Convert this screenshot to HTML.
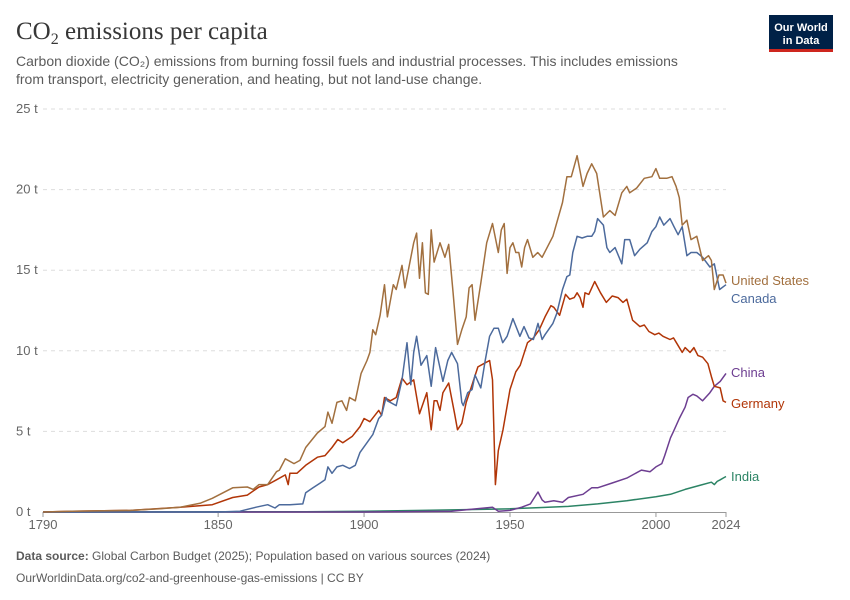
<!DOCTYPE html>
<html><head><meta charset="utf-8">
<style>
body{margin:0;background:#fff;font-family:"Liberation Sans",sans-serif;}
#wrap{position:relative;width:850px;height:600px;overflow:hidden;}
</style></head>
<body>
<div id="wrap">
<svg id="chart" width="850" height="600" xmlns="http://www.w3.org/2000/svg">
<text x="16" y="39" font-family="Liberation Serif,serif" font-size="25" fill="#373737">CO<tspan font-size="16" dy="5">2</tspan><tspan dy="-5"> emissions per capita</tspan></text>
<text x="16" y="66" font-size="14" fill="#5b5b5b">Carbon dioxide (CO₂) emissions from burning fossil fuels and industrial processes. This includes emissions</text>
<text x="16" y="84" font-size="14" fill="#5b5b5b">from transport, electricity generation, and heating, but not land-use change.</text>
<g>
<rect x="769" y="15" width="64" height="37" fill="#002147"/>
<rect x="769" y="49" width="64" height="3" fill="#ce261e"/>
<text x="801" y="31" font-size="11" font-weight="bold" fill="#fff" text-anchor="middle">Our World</text>
<text x="801" y="44" font-size="11" font-weight="bold" fill="#fff" text-anchor="middle">in Data</text>
</g>
<g id="grid"></g>
<g id="series"></g>
<g id="labels"></g>
<text x="16" y="560" font-size="12" fill="#5b5b5b"><tspan font-weight="bold">Data source:</tspan> Global Carbon Budget (2025); Population based on various sources (2024)</text>
<text x="16" y="582" font-size="12" fill="#5b5b5b">OurWorldinData.org/co2-and-greenhouse-gas-emissions | CC BY</text>
</svg>
</div>
<script>
const yTicks=[0,5,10,15,20,25];
const xTicks=[1790,1850,1900,1950,2000,2024];
const seriesNames=["United States","Canada","Germany","China","India"];
const usYears=[1790,1800,1820,1830,1837,1844,1848,1855,1860,1862,1864,1867,1870,1871,1873,1876,1878,1880,1884,1886.6,1887.6,1889,1890.7,1892.4,1894,1895,1897,1899,1901,1902,1903,1904,1905.5,1907,1908,1910,1911,1913,1914,1917,1918,1919,1920,1921,1922,1923,1924,1926,1927.7,1929,1930.5,1932,1933.5,1935,1936,1937,1938,1940,1942,1944,1946,1947,1948,1949,1950,1951,1952,1953,1954,1955,1956,1957.8,1959.5,1961,1964.7,1968,1969.5,1971,1973,1975,1976.4,1978,1979.7,1982,1984.2,1986,1988.3,1990,1991,1993.4,1996,1998.6,2000,2001.3,2003.7,2005.5,2006.9,2008,2009,2010.6,2012,2014,2016,2018,2019,2020,2021.6,2023,2024];
const usVals=[0,0.05,0.1,0.2,0.3,0.55,0.85,1.5,1.55,1.4,1.7,1.7,2.5,2.6,3.3,3.0,3.2,4.0,4.9,5.3,6.2,5.5,6.8,6.9,6.3,7.1,6.9,8.6,9.4,9.9,11.3,11.0,12.2,14.1,12.1,14.1,13.8,15.3,13.9,16.7,17.3,14.5,16.7,13.6,13.5,17.5,15.5,16.7,15.8,16.6,13.6,10.4,11.3,12.1,13.9,14.1,11.9,14.2,16.7,17.9,16.1,17.5,17.9,14.8,16.4,16.7,16.1,16.1,15.2,16.4,16.9,15.8,16.1,15.8,17.1,19.2,20.8,20.8,22.1,20.2,21.0,21.6,21.0,18.3,18.7,18.4,19.8,20.2,19.8,20.1,20.7,20.8,21.3,20.7,20.7,20.8,20.2,19.5,17.8,18.1,16.9,17.1,15.6,15.9,15.6,13.8,14.7,14.7,14.2];
const caYears=[1790,1850,1857.5,1863,1867,1869.5,1871,1874.6,1879,1880,1882.5,1885,1886.6,1887.6,1889,1890.7,1892.7,1895,1897,1898.6,1901,1903,1905,1906,1907.5,1908,1911,1913,1914.7,1916,1917,1918,1919.5,1921.5,1923,1924.5,1927,1928.7,1930,1932,1933.5,1934,1935.5,1937,1938,1940,1941.5,1943,1944.5,1946,1947.5,1949,1951,1953.4,1954.8,1956.5,1958,1959.6,1961,1962,1964.7,1966,1968,1969.5,1970.5,1971.5,1973,1974.7,1976.4,1978,1979,1980,1982,1983.2,1984.2,1986,1988.3,1989.3,1991,1992.7,1994.5,1997,1998.6,2000,2001.3,2002.7,2004.8,2006.2,2007.6,2009,2010.6,2012,2014,2016,2018.5,2020,2021.8,2024];
const caVals=[0,0,0.05,0.3,0.45,0.25,0.45,0.45,0.5,1.2,1.5,1.8,2.0,2.8,2.4,2.8,2.9,2.7,2.9,3.7,4.3,4.8,5.8,6.0,7.1,6.9,6.6,8.2,10.5,7.9,9.9,10.9,9.1,9.7,7.8,10.2,8.1,9.4,9.9,9.2,6.8,6.6,7.4,7.6,8.5,7.7,9.4,10.9,11.4,11.4,10.5,10.9,12.0,10.9,11.5,10.8,10.7,11.7,10.7,11.0,11.7,12.3,13.8,14.6,14.7,16.1,17.1,17.0,17.1,17.1,17.4,18.2,17.8,16.4,16.1,16.4,15.4,16.9,16.9,15.9,16.3,16.7,17.4,17.7,18.3,17.8,18.2,17.7,17.2,17.7,15.9,16.1,16.1,15.8,15.2,15.4,13.8,14.1,13.5];
const deYears=[1790,1800,1820,1837,1848,1855,1860,1864,1867,1870,1873,1874,1874.6,1877,1880,1884,1886.6,1889,1891,1892.7,1896,1898.6,1900,1902,1905,1906,1907,1909,1911,1913,1914.7,1917,1919,1921.5,1923,1924,1925,1926,1927,1929,1931,1932,1933.5,1935,1937,1939,1941,1943,1944,1945,1946,1947.6,1950,1952,1953.5,1956,1958,1960,1962,1964,1965,1967,1969,1970.5,1972,1973,1974,1975,1975.7,1977,1979,1981,1983,1985,1987,1988.7,1990,1992,1994.5,1996,1997.6,1999.6,2001,2002.4,2004.8,2006,2007,2009,2010,2011.7,2013,2014.4,2016,2017.8,2019,2020,2022,2023,2024];
const deVals=[0,0.05,0.1,0.3,0.45,0.9,1.05,1.55,1.7,2.0,2.3,1.7,2.4,2.4,2.9,3.4,3.5,4.0,4.5,4.3,4.7,5.3,5.8,5.6,6.3,6.0,7.1,6.9,7.1,8.3,7.9,8.2,6.1,7.4,5.1,6.9,6.9,6.3,7.4,8.0,6.1,5.1,5.5,6.8,7.9,9.0,9.2,9.4,8.2,1.7,3.8,5.1,7.6,8.7,9.1,10.5,10.8,11.3,12.1,12.8,12.7,12.2,13.5,13.2,13.3,13.6,13.3,12.7,13.6,13.5,14.3,13.6,13.0,13.4,13.3,13.0,13.2,11.9,11.5,11.6,11.2,11.0,11.1,10.9,10.7,10.8,10.5,9.9,10.2,9.9,10.2,9.7,9.6,9.2,8.4,7.8,7.7,6.9,6.8];
const cnYears=[1790,1900,1930,1944,1946,1950,1954,1957,1958,1959.6,1961,1962,1965,1968,1970,1975,1978,1980,1985,1990,1995,1998,2000,2002,2003,2005,2006,2008,2010,2011,2012.7,2014,2016,2018.5,2020,2022,2024];
const cnVals=[0,0,0.05,0.3,0.05,0.1,0.3,0.5,0.8,1.24,0.75,0.6,0.7,0.6,0.9,1.1,1.5,1.5,1.8,2.1,2.6,2.5,2.8,3.0,3.5,4.6,5.0,5.8,6.5,7.1,7.3,7.2,6.9,7.4,7.8,8.1,8.6];
const inYears=[1790,1880,1900,1920,1950,1960,1970,1980,1990,2000,2005,2010,2015,2019,2020,2021,2022,2023,2024];
const inVals=[0,0.02,0.05,0.1,0.2,0.27,0.35,0.5,0.7,0.95,1.1,1.4,1.65,1.85,1.7,1.9,2.0,2.1,2.2];
const colors=["#a2703f","#4c6a9c","#b13507","#6d3e91","#2c8465"];

const X0=43,X1=726,Y0=512,Y25=109;
const xs=y=>X0+(y-1790)/(2024-1790)*(X1-X0);
const ys=v=>Y0-v/25*(Y0-Y25);
const NS="http://www.w3.org/2000/svg";
function mk(tag,attrs,parent){const e=document.createElementNS(NS,tag);for(const k in attrs)e.setAttribute(k,attrs[k]);parent.appendChild(e);return e;}
const grid=document.getElementById('grid');
yTicks.forEach(t=>{
  if(t>0){const l=mk('line',{x1:X0,x2:X1,y1:ys(t),y2:ys(t),stroke:'#dddddd','stroke-dasharray':'4,4'},grid);
  
  }
  const tx=mk('text',{x:16,y:ys(t)+4,'font-size':13,fill:'#666'},grid);tx.textContent=t+' t';
  
  
});
const ax=mk('line',{x1:X0,x2:X1,y1:Y0+0.5,y2:Y0+0.5,stroke:'#999'},grid);


xTicks.forEach(t=>{
  const tk=mk('line',{x1:xs(t),x2:xs(t),y1:Y0,y2:Y0+5,stroke:'#999'},grid);
  
  
  const tx=mk('text',{x:xs(t),y:Y0+17,'font-size':13,fill:'#666','text-anchor':'middle'},grid);tx.textContent=t;
  
  
});
const data=[[usYears,usVals],[caYears,caVals],[deYears,deVals],[cnYears,cnVals],[inYears,inVals]];
const sg=document.getElementById('series');
const order=[4,3,2,1,0];
order.forEach(i=>{
  const [yy,vv]=data[i];
  const d=yy.map((y,j)=>(j?'L':'M')+xs(y).toFixed(1)+','+ys(vv[j]).toFixed(1)).join('');
  const p=mk('path',{d:d,fill:'none',stroke:colors[i],'stroke-width':1.5,'stroke-linejoin':'round'},sg);
  
  
});
const labY=[281,299,404,373,477];
const lg=document.getElementById('labels');
seriesNames.forEach((n,i)=>{
  const t=mk('text',{x:731,y:labY[i]+4,'font-size':13,fill:colors[i]},lg);t.textContent=n;
  
  
});
</script>
</body></html>
